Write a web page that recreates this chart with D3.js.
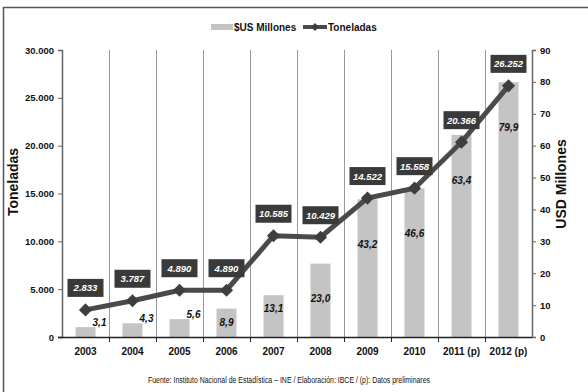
<!DOCTYPE html>
<html>
<head>
<meta charset="utf-8">
<script src="https://cdn.jsdelivr.net/npm/d3@7"></script>
<style>
body { margin: 0; background: #fff; }
text { font-family: "Liberation Sans", Arial, sans-serif; }
</style>
</head>
<body>
<script>
// donnees
var annees = ["2003", "2004", "2005", "2006", "2007", "2008", "2009", "2010", "2011 (p)", "2012 (p)"];
var millonesUSD = [3.1, 4.3, 5.6, 8.9, 13.1, 23.0, 43.2, 46.6, 63.4, 79.9];
var toneladas = [2833, 3787, 4890, 4890, 10585, 10429, 14522, 15558, 20366, 26252];
var ticksTon = [0, 5000, 10000, 15000, 20000, 25000, 30000];
var ticksUSD = [0, 10, 20, 30, 40, 50, 60, 70, 80, 90];

var larg = 588, haut = 392;
var gauche = 62, droite = 532, y0 = 337, yTop = 50;

var fmtTon = function(d) { return d3.format(",")(d).replace(/,/g, "."); };
var fmtUSD = function(d) { return d3.format(".1f")(d).replace(".", ","); };

var svg = d3.select("body").append("svg")
	.attr("width", larg)
	.attr("height", haut);

// cadre
svg.append("line").attr("x1", 3).attr("x2", larg).attr("y1", 7.5).attr("y2", 7.5)
	.attr("stroke", "#555").attr("stroke-width", 1.5);
svg.append("line").attr("x1", 3.5).attr("x2", 3.5).attr("y1", 7).attr("y2", haut)
	.attr("stroke", "#555").attr("stroke-width", 1.5);

var xScale = d3.scaleBand().domain(annees).range([gauche, droite]);
var yTon = d3.scaleLinear().domain([0, 30000]).range([y0, yTop]);
var yUSD = d3.scaleLinear().domain([0, 90]).range([y0, yTop]);

// lignes verticales entre categories
svg.selectAll("line.grille")
	.data(annees.slice(1))
	.enter().append("line")
	.attr("class", "grille")
	.attr("x1", function(d) { return Math.round(xScale(d)) + 0.5; })
	.attr("x2", function(d) { return Math.round(xScale(d)) + 0.5; })
	.attr("y1", yTop)
	.attr("y2", y0)
	.attr("stroke", "#999")
	.attr("stroke-width", 1);

// barres
var bw = 20;
svg.selectAll("rect.barre")
	.data(millonesUSD)
	.enter().append("rect")
	.attr("class", "barre")
	.attr("x", function(d, i) { return xScale(annees[i]) + xScale.bandwidth() / 2 - bw / 2; })
	.attr("y", function(d) { return yUSD(d); })
	.attr("width", bw)
	.attr("height", function(d) { return y0 - yUSD(d); })
	.attr("fill", "#c4c4c4");

// axes
var axeG = svg.append("g").attr("transform", "translate(" + gauche + ",0)")
	.call(d3.axisLeft(yTon).tickValues(ticksTon).tickFormat(fmtTon).tickSize(4).tickPadding(4));
var axeD = svg.append("g").attr("transform", "translate(" + droite + ",0)")
	.call(d3.axisRight(yUSD).tickValues(ticksUSD).tickSize(4).tickPadding(4));
[axeG, axeD].forEach(function(a) {
	a.select(".domain").attr("stroke", "#666").attr("stroke-width", 1.5);
	a.selectAll(".tick line").attr("stroke", "#666");
	a.selectAll("text").attr("font-size", "9.5px").attr("font-weight", "bold").attr("fill", "#111")
		.attr("font-family", "'Liberation Sans', Arial, sans-serif");
});

// axe des x
svg.append("line").attr("x1", gauche - 4).attr("x2", droite).attr("y1", y0 + 0.5).attr("y2", y0 + 0.5)
	.attr("stroke", "#222").attr("stroke-width", 1.5);
svg.selectAll("line.tx")
	.data(annees.slice(1))
	.enter().append("line")
	.attr("x1", function(d) { return Math.round(xScale(d)) + 0.5; })
	.attr("x2", function(d) { return Math.round(xScale(d)) + 0.5; })
	.attr("y1", y0).attr("y2", y0 + 5)
	.attr("stroke", "#222");
svg.selectAll("text.annee")
	.data(annees)
	.enter().append("text")
	.attr("class", "annee")
	.attr("x", function(d) { return xScale(d) + xScale.bandwidth() / 2; })
	.attr("y", 355)
	.attr("text-anchor", "middle")
	.attr("font-size", "10px")
	.attr("font-weight", "bold")
	.attr("fill", "#111")
	.text(function(d) { return d; });

// titres des axes
svg.append("text")
	.attr("transform", "translate(18,182) rotate(-90)")
	.attr("text-anchor", "middle")
	.attr("font-size", "14px").attr("font-weight", "bold").attr("fill", "#111")
	.text("Toneladas");
svg.append("text")
	.attr("transform", "translate(566,184) rotate(-90)")
	.attr("text-anchor", "middle")
	.attr("font-size", "14px").attr("font-weight", "bold").attr("fill", "#111")
	.text("USD Millones");

// etiquettes des barres
svg.selectAll("text.valUSD")
	.data(millonesUSD)
	.enter().append("text")
	.attr("class", "valUSD")
	.attr("x", function(d, i) {
		var cx = xScale(annees[i]) + xScale.bandwidth() / 2;
		return d < 8 ? cx + 14 : cx;
	})
	.attr("y", function(d) {
		if (d < 8) return yUSD(d) - 1;
		return yUSD(d) + (d < 15 ? 17 : Math.min(49, d * 1.5 + 4));
	})
	.attr("text-anchor", "middle")
	.attr("font-size", "10px")
	.attr("font-weight", "bold")
	.attr("font-style", "italic")
	.attr("fill", "#111")
	.text(fmtUSD);

// ligne des tonnes
var ligne = d3.line()
	.x(function(d, i) { return xScale(annees[i]) + xScale.bandwidth() / 2; })
	.y(function(d) { return yTon(d); });
svg.append("path")
	.datum(toneladas)
	.attr("d", ligne)
	.attr("fill", "none")
	.attr("stroke", "#4a4a4a")
	.attr("stroke-width", 5);
svg.selectAll("path.losange")
	.data(toneladas)
	.enter().append("path")
	.attr("class", "losange")
	.attr("d", d3.symbol().type(d3.symbolDiamond2).size(110))
	.attr("transform", function(d, i) {
		return "translate(" + (xScale(annees[i]) + xScale.bandwidth() / 2) + "," + yTon(d) + ")";
	})
	.attr("fill", "#3e3e3e");

// boites des tonnes
var boites = svg.selectAll("g.boite")
	.data(toneladas)
	.enter().append("g")
	.attr("class", "boite")
	.attr("transform", function(d, i) {
		return "translate(" + (xScale(annees[i]) + xScale.bandwidth() / 2) + "," + (yTon(d) - 22) + ")";
	});
boites.append("rect")
	.attr("x", -18).attr("y", -9)
	.attr("width", 36).attr("height", 18)
	.attr("fill", "#3a3a3a");
boites.append("text")
	.attr("y", 3.5)
	.attr("text-anchor", "middle")
	.attr("font-size", "9.5px")
	.attr("font-weight", "bold")
	.attr("font-style", "italic")
	.attr("fill", "#fff")
	.text(fmtTon);

// legende
var leg = svg.append("g").attr("transform", "translate(0,27)");
leg.append("rect").attr("x", 211).attr("y", -3).attr("width", 22).attr("height", 6).attr("fill", "#c4c4c4");
leg.append("text").attr("x", 234).attr("y", 4).attr("font-size", "10px").attr("font-weight", "bold")
	.attr("fill", "#111").text("$US Millones");
leg.append("line").attr("x1", 303).attr("x2", 327).attr("y1", 0).attr("y2", 0)
	.attr("stroke", "#4a4a4a").attr("stroke-width", 4);
leg.append("path").attr("d", d3.symbol().type(d3.symbolDiamond2).size(40))
	.attr("transform", "translate(315,0)").attr("fill", "#3e3e3e");
leg.append("text").attr("x", 328).attr("y", 4).attr("font-size", "10px").attr("font-weight", "bold")
	.attr("fill", "#111").text("Toneladas");

// source
svg.append("text")
	.attr("x", 148).attr("y", 383)
	.attr("font-size", "8.5px")
	.attr("textLength", 282)
	.attr("lengthAdjust", "spacingAndGlyphs")
	.attr("fill", "#111")
	.text("Fuente: Instituto Nacional de Estadística – INE  / Elaboración: IBCE / (p): Datos preliminares");
</script>
</body>
</html>
